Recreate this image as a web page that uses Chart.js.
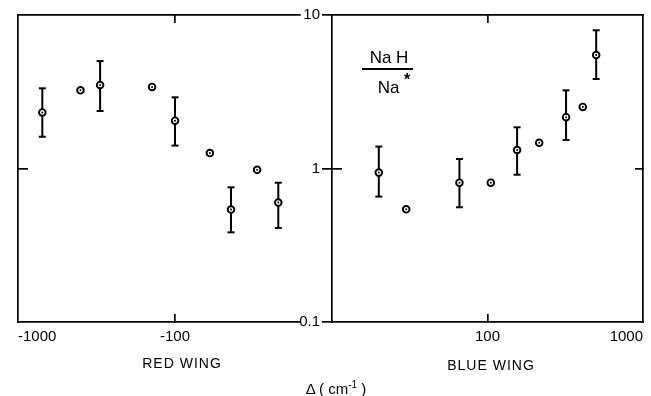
<!DOCTYPE html>
<html>
<head>
<meta charset="utf-8">
<script src="https://cdn.jsdelivr.net/npm/chart.js@4.4.1/dist/chart.umd.min.js"></script>
<style>
  body { margin: 0; background: #fff; width: 651px; height: 396px; overflow: hidden; position: relative;
         font-family: "Liberation Sans", Arial, sans-serif; color: #000; }
  canvas { position: absolute; top: 0; }
  #redChart { left: 0; }
  #blueChart { left: 290px; }
  .lbl { position: absolute; transform: translate(-50%, -50%); white-space: nowrap; line-height: 1; }
  .wing { font-size: 14px; letter-spacing: 1px; }
  .ratio { font-size: 17px; }
  .up { position: relative; top: -6px; font-size: 10px; }
  #ratioLine { position: absolute; left: 362px; top: 68px; width: 51px; height: 1.5px; background: #000; }
</style>
</head>
<body>
<canvas id="redChart" width="330" height="396"></canvas>
<canvas id="blueChart" width="361" height="396"></canvas>

<div class="lbl wing" style="left:182px; top:363px;">RED WING</div>
<div class="lbl wing" style="left:491px; top:365px;">BLUE WING</div>
<div class="lbl" style="left:336px; top:388px; font-size:15px;">&Delta; ( cm<span class="up">-1</span> )</div>
<div class="lbl ratio" style="left:389px; top:57px;">Na H</div>
<div id="ratioLine"></div>
<div class="lbl ratio" style="left:394px; top:87px;">Na <span style="position:relative; top:-8px; font-size:16px; font-weight:bold;">*</span></div>

<script>
// detuning (cm-1) and NaH / Na* ratio
const redDelta = [-700, -400, -300, -140, -100, -60, -44, -30, -22];
const redRatio = [2.32, 3.23, 3.50, 3.40, 2.05, 1.26, 0.54, 0.98, 0.60];
const redLow   = [1.61, null, 2.37, null, 1.41, null, 0.384, null, 0.41];
const redHigh  = [3.33, null, 5.01, null, 2.91, null, 0.754, null, 0.808];

const blueDelta = [20, 30, 66, 105, 155, 215, 320, 410, 500];
const blueRatio = [0.94, 0.542, 0.808, 0.808, 1.32, 1.47, 2.16, 2.52, 5.49];
const blueLow   = [0.656, null, 0.559, null, 0.911, null, 1.533, null, 3.83];
const blueHigh  = [1.39, null, 1.153, null, 1.855, null, 3.23, null, 7.95];

const redTicks = [16, 100, 1000];
const blueTicks = [10, 100, 1000];
const ratioTicks = [0.1, 1, 10];

const ink = "#000";
const frameWidth = 1.7;
Chart.defaults.font.family = '"Liberation Sans", Arial, sans-serif';
Chart.defaults.color = ink;

function onlyAt(values){
  return scale => { scale.ticks = values.map(v => ({ value: v })); };
}

function fixSize(w, h){
  return scale => {
    if (w !== null) scale.width = w;
    if (h !== null) scale.height = h;
    scale.paddingLeft = 0; scale.paddingRight = 0;
    scale.paddingTop = 0; scale.paddingBottom = 0;
  };
}

function buildDatasets(xs, ys, lows, highs){
  const sets = [];
  // error bars first so the open circles sit over them
  xs.forEach((x, i) => {
    if (lows[i] === null) return;
    sets.push({
      data: [{ x: x, y: lows[i] }, { x: x, y: highs[i] }],
      showLine: true,
      borderColor: ink,
      borderWidth: 2,
      pointStyle: "line",
      pointRadius: 3.5,
      pointBorderWidth: 2,
      pointBorderColor: ink,
      order: 3
    });
  });
  const pts = xs.map((x, i) => ({ x: x, y: ys[i] }));
  sets.push({ data: pts, pointStyle: "circle", pointRadius: 3.3, pointBorderWidth: 1.9,
              pointBackgroundColor: "#fff", pointBorderColor: ink, order: 2 });
  sets.push({ data: pts, pointStyle: "circle", pointRadius: 1, pointBorderWidth: 0,
              pointBackgroundColor: ink, order: 1 });
  return sets;
}

function tickColorAt(v){
  return c => (c.tick && c.tick.value === v) ? ink : "rgba(0,0,0,0)";
}

const baseOptions = {
  responsive: false,
  animation: false,
  devicePixelRatio: 1,
  events: [],
  plugins: { legend: { display: false }, tooltip: { enabled: false } }
};

// red wing: |delta| on a reversed log axis, labelled with the minus sign
new Chart("redChart", {
  type: "scatter",
  data: { datasets: buildDatasets(redDelta.map(Math.abs), redRatio, redLow, redHigh) },
  options: Object.assign({}, baseOptions, {
    layout: { padding: { left: 0, right: 30, top: 0, bottom: 0 } },
    scales: {
      x: {
        type: "logarithmic", position: "bottom", reverse: true, min: 16, max: 1000,
        afterBuildTicks: onlyAt(redTicks), afterFit: fixSize(null, 74),
        ticks: { align: "inner", padding: 14, autoSkip: false, maxRotation: 0, font: { size: 15 },
                 callback: v => v === 16 ? "" : "-" + v },
        grid: { drawOnChartArea: false, tickLength: -8, lineWidth: frameWidth, color: tickColorAt(100) },
        border: { color: ink, width: frameWidth }
      },
      xTop: {
        type: "logarithmic", position: "top", reverse: true, min: 16, max: 1000,
        afterBuildTicks: onlyAt([100]), afterFit: fixSize(null, 15),
        ticks: { display: false },
        grid: { drawOnChartArea: false, tickLength: -8, lineWidth: frameWidth, color: ink },
        border: { color: ink, width: frameWidth }
      },
      y: {
        type: "logarithmic", position: "left", min: 0.1, max: 10,
        afterBuildTicks: onlyAt([1]), afterFit: fixSize(18, null),
        ticks: { display: false },
        grid: { drawOnChartArea: false, tickLength: -10, lineWidth: frameWidth, color: ink },
        border: { color: ink, width: frameWidth }
      }
    }
  })
});

new Chart("blueChart", {
  type: "scatter",
  data: { datasets: buildDatasets(blueDelta, blueRatio, blueLow, blueHigh) },
  options: Object.assign({}, baseOptions, {
    layout: { padding: { left: 0, right: 8, top: 0, bottom: 0 } },
    scales: {
      x: {
        type: "logarithmic", position: "bottom", min: 10, max: 1000,
        afterBuildTicks: onlyAt(blueTicks), afterFit: fixSize(null, 74),
        ticks: { align: "inner", padding: 14, autoSkip: false, maxRotation: 0, font: { size: 15 },
                 callback: v => v === 10 ? "" : String(v) },
        grid: { drawOnChartArea: false, tickLength: -8, lineWidth: frameWidth, color: tickColorAt(100) },
        border: { color: ink, width: frameWidth }
      },
      xTop: {
        type: "logarithmic", position: "top", min: 10, max: 1000,
        afterBuildTicks: onlyAt([100]), afterFit: fixSize(null, 15),
        ticks: { display: false },
        grid: { drawOnChartArea: false, tickLength: -8, lineWidth: frameWidth, color: ink },
        border: { color: ink, width: frameWidth }
      },
      y: {
        type: "logarithmic", position: "left", weight: 1, min: 0.1, max: 10,
        afterBuildTicks: onlyAt(ratioTicks), afterFit: fixSize(42, null),
        ticks: { padding: 2, font: { size: 15 }, callback: v => String(v) },
        grid: { drawOnChartArea: false, tickLength: 10, lineWidth: frameWidth, color: ink },
        border: { color: ink, width: frameWidth }
      },
      yIn: {
        type: "logarithmic", position: "left", weight: 0, min: 0.1, max: 10,
        afterBuildTicks: onlyAt([1]), afterFit: fixSize(0, null),
        ticks: { display: false },
        grid: { drawOnChartArea: false, tickLength: -10, lineWidth: frameWidth, color: ink },
        border: { display: false }
      },
      yRight: {
        type: "logarithmic", position: "right", min: 0.1, max: 10,
        afterBuildTicks: onlyAt([1]), afterFit: fixSize(0, null),
        ticks: { display: false },
        grid: { drawOnChartArea: false, tickLength: -8, lineWidth: frameWidth, color: ink },
        border: { color: ink, width: frameWidth }
      }
    }
  })
});
</script>
</body>
</html>
